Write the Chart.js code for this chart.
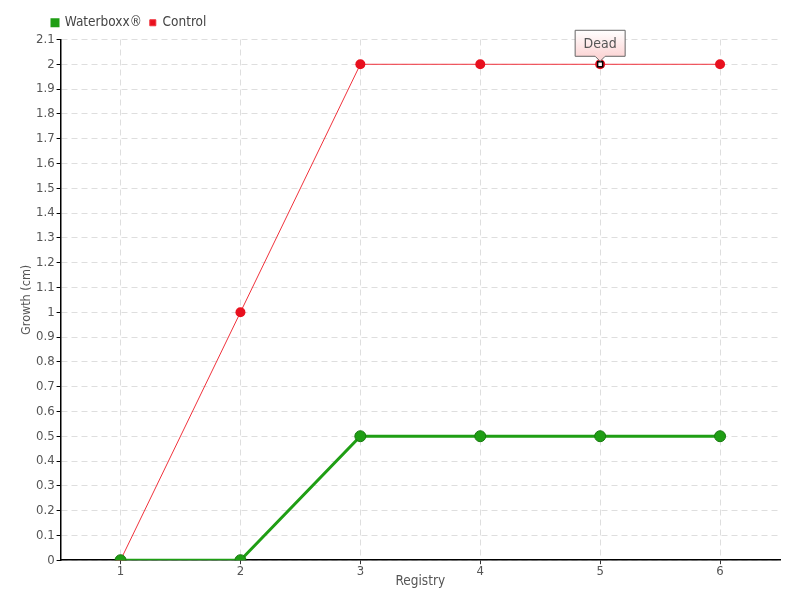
<!DOCTYPE html>
<html>
<head>
<meta charset="utf-8">
<script src="https://cdn.jsdelivr.net/npm/chart.js@4/dist/chart.umd.min.js"></script>
<style>
  html, body { margin: 0; padding: 0; background: #fff; }
</style>
</head>
<body>
<canvas id="growth" width="800" height="600"></canvas>
<script>
const registry = ['1', '2', '3', '4', '5', '6']
const waterboxx = [0, 0, 0.5, 0.5, 0.5, 0.5]
const control = [0, 1, 2, 2, 2, 2]
// note shown above a control point
const deadIndex = 4
const deadText = 'Dead'

const fontFamily = '"DejaVu Sans", sans-serif'
// chart.js rejects "condensed" as a style, so it rides along in the weight slot
const font = (size) => ({ family: fontFamily, size: size, weight: 'condensed' })

// draws the little "Dead" callout box over the control point
const deadNote = {
  id: 'deadNote',
  afterLayout(chart) {
    // nudge the legend to the right like the original
    chart.legend.left += 25
  },
  afterDatasetsDraw(chart) {
    const ctx = chart.ctx
    const x = chart.scales.x.getPixelForValue(deadIndex)
    const y = chart.scales.y.getPixelForValue(control[deadIndex])

    // hollow marker for the dead plant
    ctx.save()
    ctx.fillStyle = '#fff'
    ctx.strokeStyle = '#000'
    ctx.lineWidth = 1.5
    ctx.fillRect(x - 2.5, y - 2.5, 5, 5)
    ctx.strokeRect(x - 2.5, y - 2.5, 5, 5)

    const w = 50, h = 26
    const left = x - w / 2, top = y - 34
    const grad = ctx.createLinearGradient(0, top, 0, top + h)
    grad.addColorStop(0, '#fff')
    grad.addColorStop(1, '#fcd6d6')
    ctx.beginPath()
    ctx.moveTo(left, top)
    ctx.lineTo(left + w, top)
    ctx.lineTo(left + w, top + h)
    ctx.lineTo(x + 5, top + h)
    ctx.lineTo(x, top + h + 5)
    ctx.lineTo(x - 5, top + h)
    ctx.lineTo(left, top + h)
    ctx.closePath()
    ctx.fillStyle = grad
    ctx.fill()
    ctx.strokeStyle = '#666'
    ctx.lineWidth = 1
    ctx.stroke()

    ctx.fillStyle = '#555'
    ctx.font = 'condensed 14px ' + fontFamily
    ctx.textAlign = 'center'
    ctx.textBaseline = 'middle'
    ctx.fillText(deadText, x, top + h / 2 + 1)
    ctx.restore()
  }
}

new Chart(document.getElementById('growth'), {
  type: 'line',
  data: {
    labels: registry,
    datasets: [
      {
        label: 'Waterboxx®',
        data: waterboxx,
        borderColor: '#1f9e14',
        backgroundColor: '#1f9e14',
        borderWidth: 3,
        pointRadius: 5.5,
        pointBorderWidth: 1,
        pointBorderColor: '#177a0f',
        pointBackgroundColor: '#1f9e14',
        tension: 0
      },
      {
        label: 'Control',
        data: control,
        borderColor: '#f0323c',
        backgroundColor: '#e8101e',
        borderWidth: 1,
        pointRadius: 5,
        pointBorderWidth: 0,
        pointBackgroundColor: '#e8101e',
        tension: 0
      }
    ]
  },
  options: {
    responsive: false,
    animation: false,
    layout: { padding: { left: 19, right: 20, top: 8, bottom: 10 } },
    plugins: {
      legend: {
        align: 'start',
        labels: {
          boxWidth: 6,
          boxHeight: 6,
          padding: 8,
          color: '#444',
          font: font(13.5)
        }
      },
      tooltip: { enabled: false }
    },
    scales: {
      x: {
        offset: true,
        grid: {
          color: '#dedede',
          tickColor: '#333',
          tickLength: 4,
          tickBorderDash: []
        },
        border: { display: true, color: '#000', width: 1.5, dash: [6, 4] },
        ticks: { color: '#555', padding: 0, autoSkip: false, font: font(13) },
        title: {
          display: true,
          text: 'Registry',
          color: '#555',
          padding: { top: -6, bottom: 0 },
          font: font(13.5)
        }
      },
      y: {
        min: 0,
        max: 2.1,
        grid: {
          color: '#dedede',
          tickColor: '#000',
          tickLength: 4,
          tickBorderDash: []
        },
        border: { display: true, color: '#000', width: 1.5, dash: [6, 4] },
        ticks: {
          stepSize: 0.1,
          autoSkip: false,
          color: '#555',
          padding: 2,
          font: font(13),
          callback: value => Number(value.toFixed(1)).toString()
        },
        title: {
          display: true,
          text: 'Growth (cm)',
          color: '#555',
          padding: { top: 0, bottom: 0 },
          font: font(12.5)
        }
      }
    }
  },
  plugins: [deadNote]
})
</script>
</body>
</html>
